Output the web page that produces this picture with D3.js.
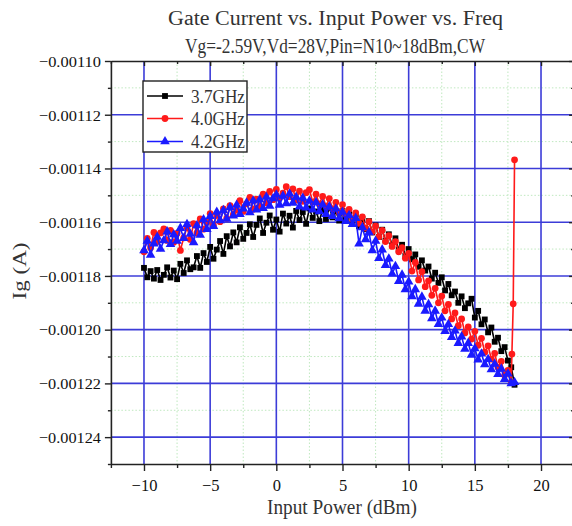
<!DOCTYPE html>
<html><head><meta charset="utf-8">
<script src="https://cdn.jsdelivr.net/npm/d3@7"></script>
<style>body{margin:0;background:#fff}svg{display:block}</style>
</head><body>
<script>
const titleLines = ["Gate Current vs. Input Power vs. Freq", "Vg=-2.59V,Vd=28V,Pin=N10~18dBm,CW"];
const xLabel = "Input Power (dBm)";
const yLabel = "Ig (A)";
const seriesNames = ["3.7GHz", "4.0GHz", "4.2GHz"];
const xTicks = [-10, -5, 0, 5, 10, 15, 20];
const xMinorTicks = [-12.5, -7.5, -2.5, 2.5, 7.5, 12.5, 17.5, 22.5];
const yTicks = [-0.00124, -0.00122, -0.00120, -0.00118, -0.00116, -0.00114, -0.00112, -0.00110];
const yMinorTicks = [-0.00125, -0.00123, -0.00121, -0.00119, -0.00117, -0.00115, -0.00113, -0.00111];

const pin = [-10,-9.75,-9.5,-9.25,-9,-8.75,-8.5,-8.25,-8,-7.75,-7.5,-7.25,-7,-6.75,-6.5,-6.25,-6,-5.75,-5.5,-5.25,-5,-4.75,-4.5,-4.25,-4,-3.75,-3.5,-3.25,-3,-2.75,-2.5,-2.25,-2,-1.75,-1.5,-1.25,-1,-0.75,-0.5,-0.25,0,0.25,0.5,0.75,1,1.25,1.5,1.75,2,2.25,2.5,2.75,3,3.25,3.5,3.75,4,4.25,4.5,4.75,5,5.25,5.5,5.75,6,6.25,6.5,6.75,7,7.25,7.5,7.75,8,8.25,8.5,8.75,9,9.25,9.5,9.75,10,10.25,10.5,10.75,11,11.25,11.5,11.75,12,12.25,12.5,12.75,13,13.25,13.5,13.75,14,14.25,14.5,14.75,15,15.25,15.5,15.75,16,16.25,16.5,16.75,17,17.25,17.5,17.75,18];
const pinRed = [-10,-9.75,-9.5,-9.25,-9,-8.75,-8.5,-8.25,-8,-7.75,-7.5,-7.25,-7,-6.75,-6.5,-6.25,-6,-5.75,-5.5,-5.25,-5,-4.75,-4.5,-4.25,-4,-3.75,-3.5,-3.25,-3,-2.75,-2.5,-2.25,-2,-1.75,-1.5,-1.25,-1,-0.75,-0.5,-0.25,0,0.25,0.5,0.75,1,1.25,1.5,1.75,2,2.25,2.5,2.75,3,3.25,3.5,3.75,4,4.25,4.5,4.75,5,5.25,5.5,5.75,6,6.25,6.5,6.75,7,7.25,7.5,7.75,8,8.25,8.5,8.75,9,9.25,9.5,9.75,10,10.25,10.5,10.75,11,11.25,11.5,11.75,12,12.25,12.5,12.75,13,13.25,13.5,13.75,14,14.25,14.5,14.75,15,15.25,15.5,15.75,16,16.25,16.5,16.75,17,17.25,17.5,17.75,17.8,17.9,18];

const ig37 = [
-0.0011770,-0.0011805,-0.0011782,-0.0011810,
-0.0011778,-0.0011815,-0.0011796,-0.0011768,
-0.0011806,-0.0011780,-0.0011812,-0.0011755,
-0.0011789,-0.0011742,-0.0011775,-0.0011768,
-0.0011726,-0.0011770,-0.0011715,-0.0011748,
-0.0011692,-0.0011736,-0.0011702,-0.0011670,
-0.0011718,-0.0011652,-0.0011690,-0.0011638,
-0.0011675,-0.0011619,-0.0011662,-0.0011640,
-0.0011608,-0.0011655,-0.0011610,-0.0011586,
-0.0011640,-0.0011602,-0.0011575,-0.0011628,
-0.0011590,-0.0011635,-0.0011568,-0.0011605,
-0.0011576,-0.0011620,-0.0011558,-0.0011592,
-0.0011562,-0.0011606,-0.0011549,-0.0011584,
-0.0011560,-0.0011596,-0.0011552,-0.0011588,
-0.0011546,-0.0011582,-0.0011560,-0.0011594,
-0.0011558,-0.0011589,-0.0011570,-0.0011604,
-0.0011572,-0.0011615,-0.0011588,-0.0011626,
-0.0011596,-0.0011638,-0.0011612,-0.0011655,
-0.0011628,-0.0011669,-0.0011645,-0.0011686,
-0.0011660,-0.0011702,-0.0011684,-0.0011725,
-0.0011700,-0.0011738,-0.0011720,-0.0011766,
-0.0011742,-0.0011780,-0.0011765,-0.0011810,
-0.0011788,-0.0011826,-0.0011805,-0.0011854,
-0.0011830,-0.0011872,-0.0011858,-0.0011900,
-0.0011876,-0.0011920,-0.0011902,-0.0011885,
-0.0011955,-0.0011930,-0.0011980,-0.0011962,
-0.0012010,-0.0011992,-0.0012045,-0.0012030,
-0.0012080,-0.0012065,-0.0012115,-0.0012140,
-0.0012205];

const ig40 = [
-0.0011710,-0.0011660,-0.0011695,-0.0011638,
-0.0011672,-0.0011640,-0.0011625,-0.0011668,
-0.0011630,-0.0011675,-0.0011642,-0.0011705,
-0.0011658,-0.0011620,-0.0011664,-0.0011605,
-0.0011640,-0.0011588,-0.0011626,-0.0011600,
-0.0011568,-0.0011612,-0.0011575,-0.0011598,
-0.0011550,-0.0011586,-0.0011538,-0.0011572,
-0.0011554,-0.0011520,-0.0011560,-0.0011532,
-0.0011508,-0.0011552,-0.0011514,-0.0011540,
-0.0011496,-0.0011528,-0.0011485,-0.0011516,
-0.0011478,-0.0011510,-0.0011492,-0.0011468,
-0.0011505,-0.0011476,-0.0011518,-0.0011484,
-0.0011522,-0.0011490,-0.0011479,-0.0011525,
-0.0011496,-0.0011532,-0.0011504,-0.0011540,
-0.0011512,-0.0011550,-0.0011526,-0.0011564,
-0.0011535,-0.0011570,-0.0011552,-0.0011588,
-0.0011565,-0.0011604,-0.0011580,-0.0011622,
-0.0011598,-0.0011636,-0.0011615,-0.0011654,
-0.0011630,-0.0011672,-0.0011650,-0.0011690,
-0.0011672,-0.0011710,-0.0011695,-0.0011734,
-0.0011716,-0.0011782,-0.0011750,-0.0011815,
-0.0011784,-0.0011840,-0.0011818,-0.0011872,
-0.0011846,-0.0011900,-0.0011875,-0.0011930,
-0.0011906,-0.0011960,-0.0011938,-0.0011985,
-0.0011960,-0.0012012,-0.0011990,-0.0012035,
-0.0012006,-0.0012058,-0.0012032,-0.0012084,
-0.0012060,-0.0012110,-0.0012088,-0.0012140,
-0.0012118,-0.0012170,-0.0012152,-0.0012195,
-0.0012091,-0.0011904,-0.0011368];

const ig42 = [
-0.0011705,-0.0011670,-0.0011722,-0.0011680,
-0.0011655,-0.0011700,-0.0011668,-0.0011635,
-0.0011682,-0.0011646,-0.0011670,-0.0011622,
-0.0011660,-0.0011608,-0.0011644,-0.0011675,
-0.0011612,-0.0011648,-0.0011590,-0.0011626,
-0.0011578,-0.0011615,-0.0011562,-0.0011594,
-0.0011556,-0.0011588,-0.0011545,-0.0011576,
-0.0011536,-0.0011570,-0.0011550,-0.0011528,
-0.0011564,-0.0011520,-0.0011554,-0.0011516,
-0.0011548,-0.0011506,-0.0011540,-0.0011512,
-0.0011498,-0.0011536,-0.0011502,-0.0011530,
-0.0011494,-0.0011528,-0.0011506,-0.0011542,
-0.0011510,-0.0011546,-0.0011520,-0.0011554,
-0.0011526,-0.0011560,-0.0011534,-0.0011570,
-0.0011542,-0.0011578,-0.0011550,-0.0011586,
-0.0011562,-0.0011596,-0.0011574,-0.0011608,
-0.0011585,-0.0011680,-0.0011620,-0.0011664,
-0.0011638,-0.0011705,-0.0011670,-0.0011734,
-0.0011702,-0.0011760,-0.0011736,-0.0011792,
-0.0011764,-0.0011820,-0.0011796,-0.0011850,
-0.0011822,-0.0011876,-0.0011850,-0.0011904,
-0.0011878,-0.0011930,-0.0011906,-0.0011958,
-0.0011930,-0.0011980,-0.0011956,-0.0012006,
-0.0011980,-0.0012028,-0.0012004,-0.0012050,
-0.0012026,-0.0012072,-0.0012050,-0.0012094,
-0.0012070,-0.0012112,-0.0012090,-0.0012130,
-0.0012110,-0.0012148,-0.0012128,-0.0012166,
-0.0012146,-0.0012184,-0.0012164,-0.0012200,
-0.0012196];

const W = 572, H = 526;
const serif = "'Liberation Serif','DejaVu Serif',serif";
const svg = d3.select("body").append("svg").attr("width", W).attr("height", H);
svg.append("rect").attr("width", W).attr("height", H).attr("fill", "#fff");

const x = d3.scaleLinear().domain([-12.5, 22.5]).range([110.9, 574.1]);
const y = d3.scaleLinear().domain([-0.00125, -0.00110]).range([464, 61]);
const L = x.range()[0], R = x.range()[1], T = y.range()[1], B = y.range()[0];

// minor grid
const grid = svg.append("g");
grid.selectAll("line.gxm").data(xMinorTicks.filter(d => d > -12.5 && d < 22.5)).join("line").attr("class", "gxm")
  .attr("x1", d => x(d)).attr("x2", d => x(d)).attr("y1", T).attr("y2", B)
  .attr("stroke", "#bfe8bf").attr("stroke-width", 1).attr("stroke-dasharray", "1.5,2");
grid.selectAll("line.gym").data(yMinorTicks.filter(d => d > -0.00125)).join("line").attr("class", "gym")
  .attr("x1", L).attr("x2", R).attr("y1", d => y(d)).attr("y2", d => y(d))
  .attr("stroke", "#bfe8bf").attr("stroke-width", 1).attr("stroke-dasharray", "1.5,2");
// major grid
grid.selectAll("line.gx").data(xTicks).join("line").attr("class", "gx")
  .attr("x1", d => x(d)).attr("x2", d => x(d)).attr("y1", T).attr("y2", B)
  .attr("stroke", "#3c3cd8").attr("stroke-width", 1.6);
grid.selectAll("line.gy").data(yTicks.filter(d => d < -0.00110)).join("line").attr("class", "gy")
  .attr("x1", L).attr("x2", R).attr("y1", d => y(d)).attr("y2", d => y(d))
  .attr("stroke", "#3c3cd8").attr("stroke-width", 1.6);

// series
const series = [
  {name: seriesNames[0], xs: pin, ys: ig37, color: "#000000", sym: d3.symbolSquare, size: 34},
  {name: seriesNames[1], xs: pinRed, ys: ig40, color: "#ff1a1a", sym: d3.symbolCircle, size: 36},
  {name: seriesNames[2], xs: pin, ys: ig42, color: "#1a1aff", sym: d3.symbolTriangle, size: 40}
];
const line = d3.line().x(d => x(d[0])).y(d => y(d[1]));
series.forEach(s => {
  const pts = s.xs.map((v, i) => [v, s.ys[i]]);
  const g = svg.append("g");
  g.append("path").attr("d", line(pts)).attr("fill", "none")
    .attr("stroke", s.color).attr("stroke-width", 1.6);
  g.selectAll("path.m").data(pts).join("path").attr("class", "m")
    .attr("transform", d => `translate(${x(d[0])},${y(d[1])})`)
    .attr("d", d3.symbol().type(s.sym).size(s.size)).attr("fill", s.color);
});

// axes
const axStyle = g => {
  g.select(".domain").attr("stroke", "#222").attr("stroke-width", 1.6);
  g.selectAll(".tick line").attr("stroke", "#222").attr("stroke-width", 1.4);
};
const fmt = d3.format(".5f");
const yl = svg.append("g").attr("transform", `translate(${L},0)`)
  .call(d3.axisLeft(y).tickValues(yTicks).tickSizeInner(6).tickSizeOuter(0).tickPadding(4).tickFormat(fmt))
  .call(axStyle);
yl.selectAll("text").attr("font-family", serif).attr("font-size", 15.5).attr("fill", "#111")
  .attr("textLength", 62).attr("lengthAdjust", "spacingAndGlyphs").attr("dy", "0.34em");
svg.append("g").attr("transform", `translate(${L},0)`)
  .call(d3.axisLeft(y).tickValues(yMinorTicks).tickSize(3).tickFormat("")).call(axStyle)
  .select(".domain").remove();

const xb = svg.append("g").attr("transform", `translate(0,${B})`)
  .call(d3.axisBottom(x).tickValues(xTicks).tickSizeInner(7).tickSizeOuter(0).tickPadding(8).tickFormat(d3.format("d")))
  .call(axStyle);
xb.selectAll("text").attr("font-family", serif).attr("font-size", 16.5).attr("fill", "#111")
  .attr("dy", "0.71em");
svg.append("g").attr("transform", `translate(0,${B})`)
  .call(d3.axisBottom(x).tickValues(xMinorTicks).tickSize(4).tickFormat("")).call(axStyle)
  .select(".domain").remove();

// top and right axes (ticks inward)
svg.append("g").attr("transform", `translate(0,${T})`)
  .call(d3.axisTop(x).tickValues(xTicks).tickSizeInner(-5).tickSizeOuter(0).tickFormat("")).call(axStyle);
svg.append("g").attr("transform", `translate(0,${T})`)
  .call(d3.axisTop(x).tickValues(xMinorTicks).tickSize(-3).tickFormat("")).call(axStyle)
  .select(".domain").remove();
svg.append("g").attr("transform", `translate(${R},0)`)
  .call(d3.axisRight(y).tickValues(yTicks).tickSizeInner(-5).tickSizeOuter(0).tickFormat("")).call(axStyle);
svg.append("g").attr("transform", `translate(${R},0)`)
  .call(d3.axisRight(y).tickValues(yMinorTicks).tickSize(-3).tickFormat("")).call(axStyle)
  .select(".domain").remove();

// titles
svg.append("text").attr("x", 335.5).attr("y", 25).attr("text-anchor", "middle")
  .attr("font-family", serif).attr("font-size", 20).attr("fill", "#333")
  .attr("textLength", 335).attr("lengthAdjust", "spacingAndGlyphs").text(titleLines[0]);
svg.append("text").attr("x", 335).attr("y", 53).attr("text-anchor", "middle")
  .attr("font-family", serif).attr("font-size", 20).attr("fill", "#333")
  .attr("textLength", 300).attr("lengthAdjust", "spacingAndGlyphs").text(titleLines[1]);
svg.append("text").attr("x", 342).attr("y", 514).attr("text-anchor", "middle")
  .attr("font-family", serif).attr("font-size", 20).attr("fill", "#333")
  .attr("textLength", 150).attr("lengthAdjust", "spacingAndGlyphs").text(xLabel);
svg.append("text").attr("transform", "translate(26,271) rotate(-90)").attr("text-anchor", "middle")
  .attr("font-family", serif).attr("font-size", 18).attr("fill", "#333")
  .attr("textLength", 57).attr("lengthAdjust", "spacingAndGlyphs").text(yLabel);

// legend
const lg = svg.append("g");
lg.append("rect").attr("x", 143).attr("y", 81).attr("width", 104).attr("height", 71)
  .attr("fill", "#fff").attr("stroke", "#222").attr("stroke-width", 1.4);
const rowY = [96, 118.5, 141.5];
series.forEach((s, i) => {
  lg.append("line").attr("x1", 147).attr("x2", 183).attr("y1", rowY[i]).attr("y2", rowY[i])
    .attr("stroke", s.color).attr("stroke-width", 1.6);
  lg.append("path").attr("transform", `translate(165,${rowY[i]})`)
    .attr("d", d3.symbol().type(s.sym).size(s.size)).attr("fill", s.color);
  lg.append("text").attr("x", 191).attr("y", rowY[i] + 6.5)
    .attr("font-family", serif).attr("font-size", 18.5).attr("fill", "#333")
    .attr("textLength", 54).attr("lengthAdjust", "spacingAndGlyphs").text(s.name);
});
</script>
</body></html>
